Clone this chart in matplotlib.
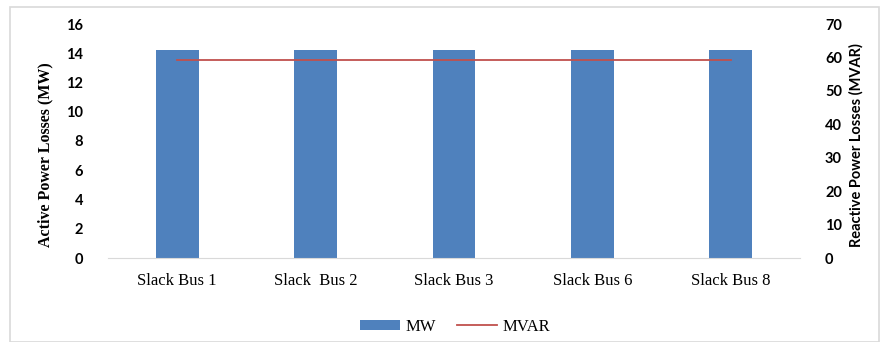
import matplotlib
matplotlib.use("Agg")
import matplotlib.pyplot as plt
from matplotlib.patches import Rectangle

categories = ["Slack Bus 1", "Slack  Bus 2", "Slack Bus 3", "Slack Bus 6", "Slack Bus 8"]
mw = [14.25, 14.25, 14.25, 14.25, 14.25]
mvar = [59.2, 59.2, 59.2, 59.2, 59.2]
left_ticks = [0, 2, 4, 6, 8, 10, 12, 14, 16]
right_ticks = [0, 10, 20, 30, 40, 50, 60, 70]

fig = plt.figure(figsize=(8.8, 3.42), dpi=100)
fig.patches.append(Rectangle((10/880, 0), 869/880, 1 - 7/342, transform=fig.transFigure,
                             fill=False, edgecolor="#d9d9d9", linewidth=1.2))
ax = fig.add_axes([108/880, 1 - 258/342, 692/880, 234/342])
x = list(range(len(categories)))
bars = ax.bar(x, mw, width=0.31, color="#4f81bd", label="MW", zorder=2)
ax.set_xlim(-0.5, len(categories) - 0.5)
ax.set_ylim(0, 16)
ax.set_yticks(left_ticks)
ax.set_yticklabels([str(t) for t in left_ticks], fontfamily="Lato", fontweight="bold", fontsize=10.5)
ax.set_xticks(x)
ax.set_xticklabels(categories, fontfamily="Liberation Serif", fontsize=12)
ax.tick_params(axis="both", length=0)
ax.tick_params(axis="x", pad=11)
ax.tick_params(axis="y", pad=18)
for s in ["top", "left", "right"]:
    ax.spines[s].set_visible(False)
ax.spines["bottom"].set_color("#d9d9d9")
ax.set_ylabel("Active Power Losses (MW)", fontfamily="Liberation Serif", fontweight="bold", fontsize=11.5)
ax.yaxis.set_label_coords(-55/692, (258 - 155) / 234)

ax2 = ax.twinx()
line, = ax2.plot(x, mvar, color="#c0504d", linewidth=1.3, label="MVAR", zorder=3)
ax2.set_ylim(0, 70)
ax2.set_yticks(right_ticks)
ax2.set_yticklabels([str(t) for t in right_ticks], fontfamily="Lato", fontweight="bold", fontsize=10.5)
ax2.tick_params(axis="y", length=0, pad=18)
for s in ["top", "left", "right", "bottom"]:
    ax2.spines[s].set_visible(False)
ax2.set_ylabel("Reactive Power Losses (MVAR)", fontfamily="Lato", fontweight="bold", fontsize=10.5)
ax2.yaxis.set_label_coords(1 + 49/692, (258 - 145) / 234)

fig.legend([bars, line], ["MW", "MVAR"], loc="center", bbox_to_anchor=(455/880, 1 - 327/342),
           ncol=2, frameon=False, prop={"family": "Liberation Serif", "size": 12},
           handlelength=2.4, handleheight=0.6, columnspacing=1.3, handletextpad=0.3)

fig.savefig("out.png", dpi=100)
